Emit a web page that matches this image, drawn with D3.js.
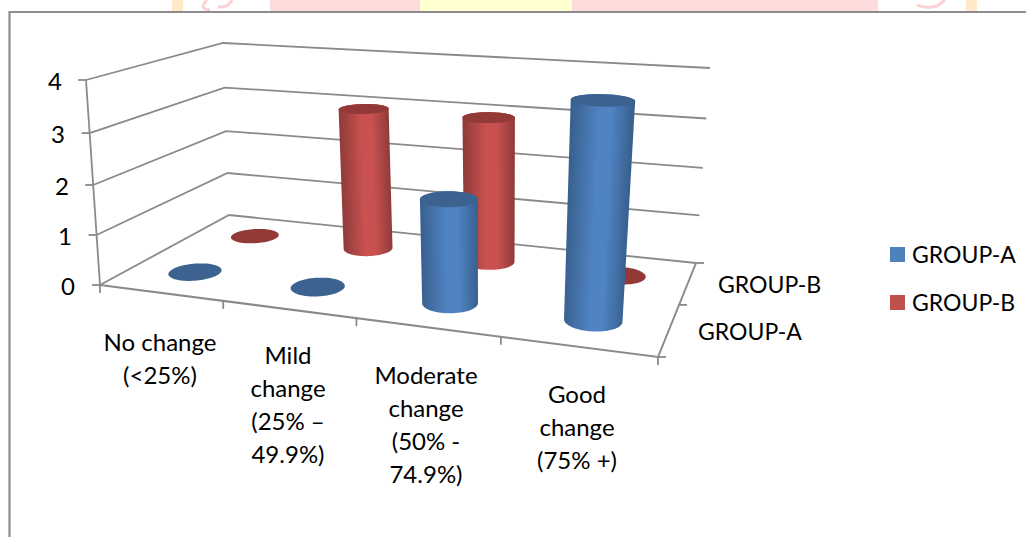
<!DOCTYPE html>
<html>
<head>
<meta charset="utf-8">
<script src="https://cdn.jsdelivr.net/npm/d3@7"></script>
<style>
  html, body { margin: 0; padding: 0; background: #fff; overflow: hidden; }
  text { font-family: Lato, "Open Sans", sans-serif; fill: #000; }
</style>
</head>
<body>
<div id="chart"></div>
<script>
// Data
const categories = [
    ["No change", "(<25%)"],
    ["Mild", "change", "(25% –", "49.9%)"],
    ["Moderate", "change", "(50% -", "74.9%)"],
    ["Good", "change", "(75% +)"]
];
const seriesNames = ["GROUP-A", "GROUP-B"];
const groupA = [0, 0, 2, 4];
const groupB = [0, 3, 3, 0];
const valueTicks = [0, 1, 2, 3, 4];

const width = 1026, height = 537;
const lineColor = "#8a8a8a";

const svg = d3.select("#chart")
    .append("svg")
    .attr("width", width)
    .attr("height", height)
    .style("display", "block");

// Faint bits of the page behind the chart, cut off by the frame
const strip = [[172, 183, "#ffe9c9"], [270, 420, "#ffdcdc"], [420, 572, "#ffffcf"], [572, 878, "#ffdcdc"], [966, 977, "#ffe9c9"]];
strip.forEach(s => {
    svg.append("rect").attr("x", s[0]).attr("y", 0).attr("width", s[1] - s[0]).attr("height", 11).attr("fill", s[2]);
});
svg.append("path").attr("d", "M207,0 Q198,9 210,10 M232,0 Q228,8 218,7")
    .attr("fill", "none").attr("stroke", "#fcd0d4").attr("stroke-width", 3);
svg.append("path").attr("d", "M917,5 Q925,9 937,6 L945,0")
    .attr("fill", "none").attr("stroke", "#fcd0d4").attr("stroke-width", 3);

// Chart frame
svg.append("path")
    .attr("d", `M9.5,${height} V12 H${width}`)
    .attr("fill", "none")
    .attr("stroke", "#8c8c8c")
    .attr("stroke-width", 2.2);

// Square to quad mapping, so the floor and top plane get real perspective
function quadMap(p00, p10, p11, p01) {
    const dx1 = p10[0] - p11[0], dx2 = p01[0] - p11[0], sx = p00[0] - p10[0] + p11[0] - p01[0];
    const dy1 = p10[1] - p11[1], dy2 = p01[1] - p11[1], sy = p00[1] - p10[1] + p11[1] - p01[1];
    const den = dx1 * dy2 - dx2 * dy1;
    const g = (sx * dy2 - dx2 * sy) / den, h = (dx1 * sy - sx * dy1) / den;
    const a = p10[0] - p00[0] + g * p10[0], b = p01[0] - p00[0] + h * p01[0];
    const d = p10[1] - p00[1] + g * p10[1], e = p01[1] - p00[1] + h * p01[1];
    return (u, t) => {
        const w = g * u + h * t + 1;
        return [(a * u + b * t + p00[0]) / w, (d * u + e * t + p00[1]) / w];
    };
}

const floorMap = quadMap([100, 285], [658, 357], [696, 263], [229, 215]);
const topMap = quadMap([86, 80], [678, 122], [710, 68], [223, 43]);

// Scales for the three chart directions
const xScale = d3.scaleLinear().domain([0, categories.length]).range([0, 1]);
const zScale = d3.scaleLinear().domain([0, seriesNames.length]).range([0, 1]);
const yScale = d3.scaleLinear().domain(valueTicks).range([0, 0.244, 0.488, 0.741, 1]);

function project(u, t, v) {
    const a = floorMap(u, t), b = topMap(u, t), f = yScale(v);
    return [a[0] + (b[0] - a[0]) * f, a[1] + (b[1] - a[1]) * f];
}

const line = d3.line();
function drawLine(pts, w) {
    svg.append("path")
        .attr("d", line(pts))
        .attr("fill", "none")
        .attr("stroke", lineColor)
        .attr("stroke-width", w || 1.8);
}

// Walls and gridlines
valueTicks.forEach(v => {
    drawLine([project(0, 0, v), project(0, 1, v), project(1, 1, v)]);
    const p = project(0, 0, v);
    drawLine([[p[0] - 8, p[1]], p]);
});
drawLine([project(0, 0, 0), project(0, 0, 4)]);

// Floor edges and their ticks
drawLine([project(0, 0, 0), project(1, 0, 0), project(1, 1, 0)], 2);
d3.range(categories.length + 1).forEach(i => {
    const p = project(xScale(i), 0, 0);
    drawLine([p, [p[0], p[1] + 8]]);
});
d3.range(seriesNames.length + 1).forEach(i => {
    const p = project(1, zScale(i), 0);
    drawLine([p, [p[0] + 8, p[1]]]);
});

// Cylinders
const ru = 0.048, rt = 0.105;
const ringAngles = d3.range(0, 2 * Math.PI, Math.PI / 36);
const defs = svg.append("defs");
const palette = {
    "GROUP-A": { top: "#3c628f", mid: "#5083c2", edge: "#38608f", legend: "#4f81bd" },
    "GROUP-B": { top: "#933937", mid: "#c95250", edge: "#8f3b39", legend: "#c0504d" }
};

function ring(u, t, v) {
    return ringAngles.map(a => project(u + ru * Math.cos(a), t + rt * Math.sin(a), v));
}

function drawCylinder(name, i, s, value) {
    const u = xScale(i + 0.5), t = zScale(s + 0.5);
    const col = palette[name];
    const topRing = ring(u, t, value);
    if (value > 0) {
        const baseRing = ring(u, t, 0);
        const c0 = project(u, t, 0), c1 = project(u, t, value);
        const len = Math.hypot(c1[0] - c0[0], c1[1] - c0[1]);
        const nx = (c0[1] - c1[1]) / len, ny = (c1[0] - c0[0]) / len;
        const mid = ring(u, t, value / 2);
        const r = (d3.max(mid, d => d[0]) - d3.min(mid, d => d[0])) / 2;
        const cm = project(u, t, value / 2);
        const id = `grad-${s}-${i}`;
        const grad = defs.append("linearGradient")
            .attr("id", id)
            .attr("gradientUnits", "userSpaceOnUse")
            .attr("x1", cm[0] - nx * r).attr("y1", cm[1] - ny * r)
            .attr("x2", cm[0] + nx * r).attr("y2", cm[1] + ny * r);
        grad.append("stop").attr("offset", "0%").attr("stop-color", col.edge);
        grad.append("stop").attr("offset", "45%").attr("stop-color", col.mid);
        grad.append("stop").attr("offset", "65%").attr("stop-color", col.mid);
        grad.append("stop").attr("offset", "100%").attr("stop-color", col.edge);
        svg.append("path")
            .attr("d", line(d3.polygonHull(topRing.concat(baseRing))) + "Z")
            .attr("fill", `url(#${id})`);
    }
    svg.append("path")
        .attr("d", line(topRing) + "Z")
        .attr("fill", col.top);
}

// Back series first so the front one covers it
groupB.forEach((v, i) => drawCylinder("GROUP-B", i, 1, v));
groupA.forEach((v, i) => drawCylinder("GROUP-A", i, 0, v));

// Value labels
const valueLabelX = [68, 65, 62, 58, 55];
valueTicks.forEach((v, i) => {
    const p = project(0, 0, v);
    svg.append("text")
        .attr("x", valueLabelX[i])
        .attr("y", p[1] + 10)
        .attr("text-anchor", "middle")
        .style("font-size", "24px")
        .text(v);
});

// Category labels
const catLabelX = [160, 288, 426, 577];
const catLabelY = [351, 364, 384, 403];
categories.forEach((lines, i) => {
    const label = svg.append("text")
        .attr("text-anchor", "middle")
        .style("font-size", "24px");
    lines.forEach((l, j) => {
        label.append("tspan")
            .attr("x", catLabelX[i])
            .attr("y", catLabelY[i] + j * 33)
            .text(l);
    });
});

// Depth axis labels
svg.append("text").attr("x", 698).attr("y", 340).style("font-size", "23px").text(seriesNames[0]);
svg.append("text").attr("x", 718).attr("y", 293).style("font-size", "23px").text(seriesNames[1]);

// Legend
seriesNames.forEach((name, i) => {
    svg.append("rect")
        .attr("x", 890)
        .attr("y", 247 + i * 48)
        .attr("width", 15)
        .attr("height", 15)
        .attr("fill", palette[name].legend);
    svg.append("text")
        .attr("x", 912)
        .attr("y", 263 + i * 48)
        .style("font-size", "23px")
        .text(name);
});
</script>
</body>
</html>
